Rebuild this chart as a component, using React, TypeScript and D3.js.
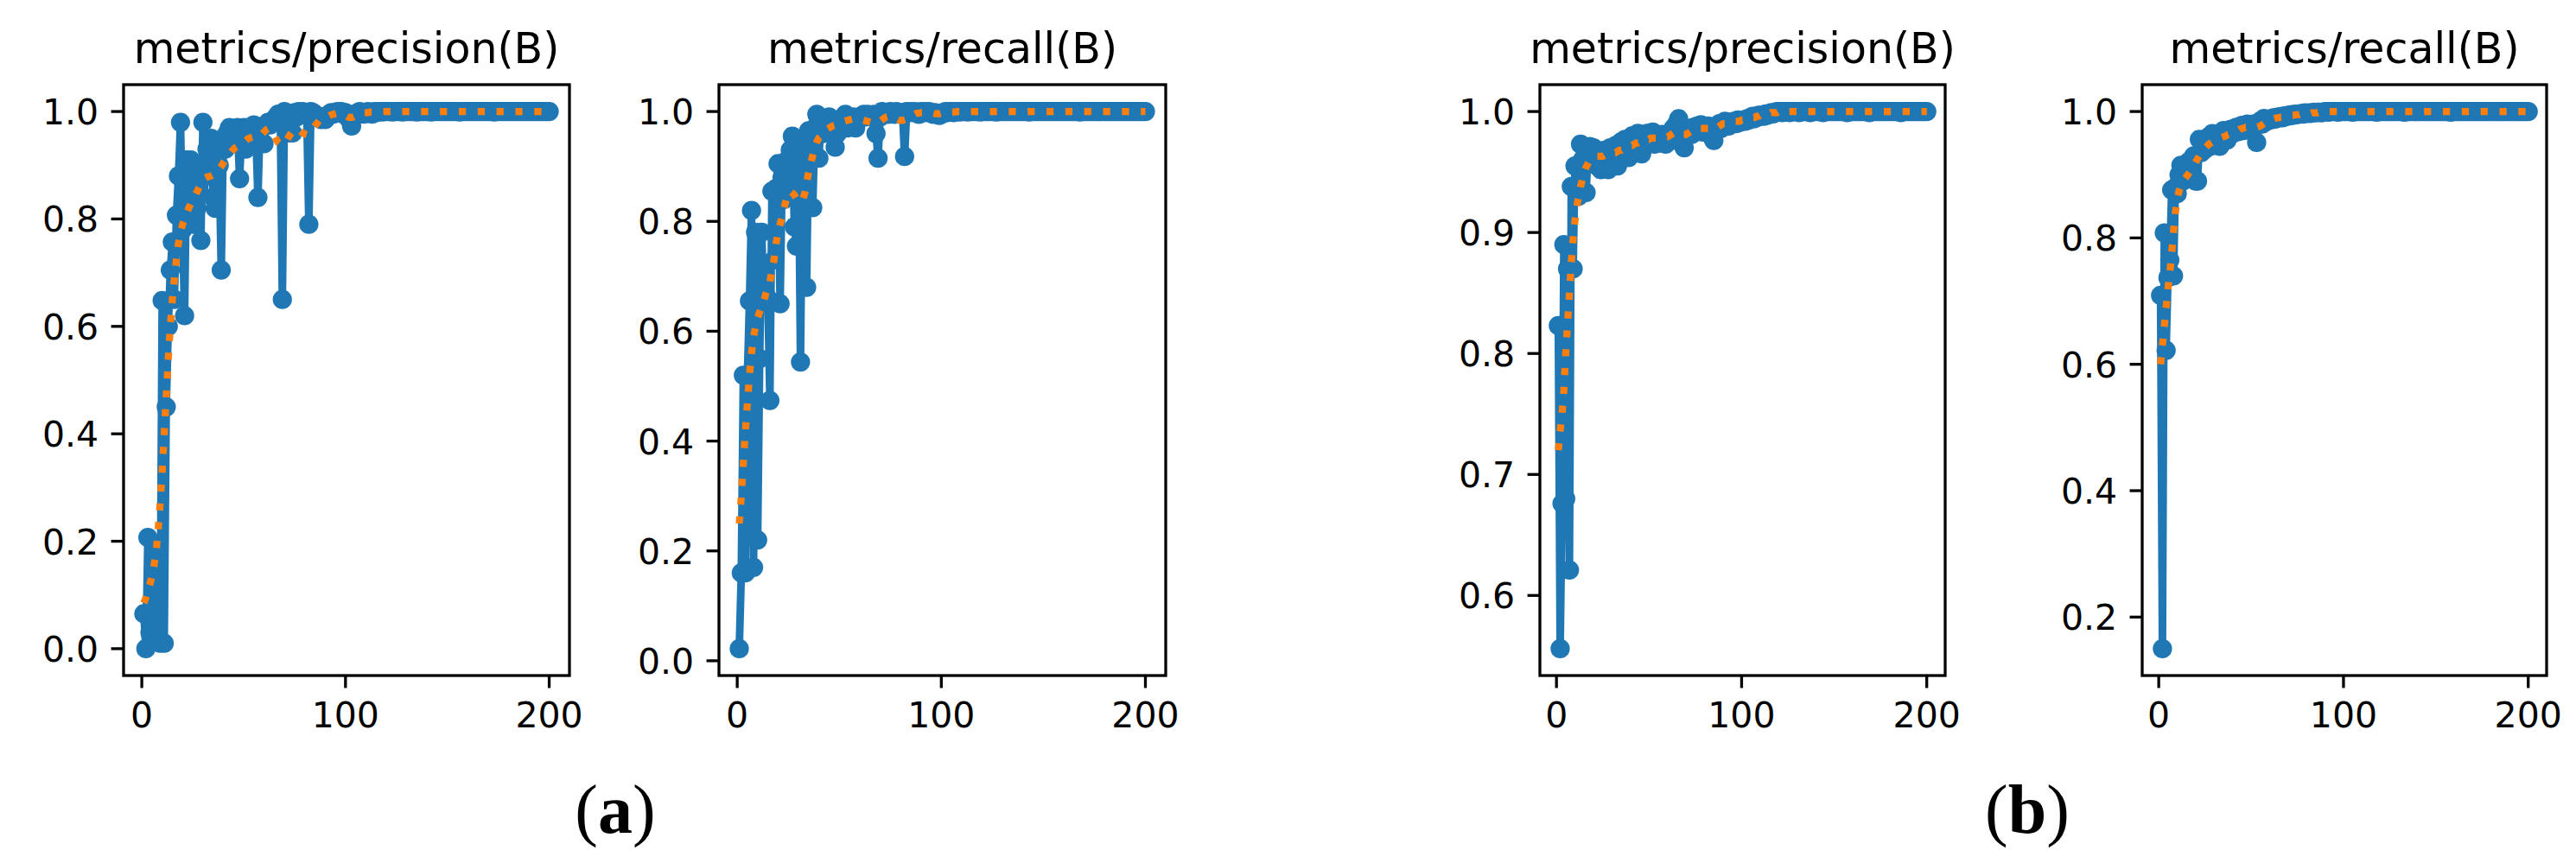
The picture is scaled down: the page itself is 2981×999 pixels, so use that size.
import React from "react";
import * as d3 from "d3";

// ---------------- data ----------------
const epochs = d3.range(1, 201);

const precisionA = [
  0.065, 0.0, 0.207, 0.03, 0.09, 0.176, 0.04, 0.18, 0.01, 0.648,
  0.01, 0.45, 0.6, 0.705, 0.757, 0.65, 0.807, 0.88, 0.98, 0.78,
  0.62, 0.91, 0.8, 0.91, 0.79, 0.88, 0.82, 0.86, 0.76, 0.98,
  0.9, 0.93, 0.88, 0.95, 0.84, 0.82, 0.94, 0.9, 0.705, 0.95,
  0.93, 0.96, 0.97, 0.94, 0.96, 0.95, 0.97, 0.875, 0.96, 0.97,
  0.93, 0.97, 0.96, 0.97, 0.975, 0.96, 0.84, 0.97, 0.97, 0.94,
  0.975, 0.98, 0.975, 0.98, 0.985, 0.99, 0.995, 0.99, 0.65, 1.0,
  0.99, 0.96, 0.995, 0.96, 0.998, 0.99, 1.0, 0.995, 1.0, 0.998,
  0.995, 0.79, 1.0, 0.998, 0.995, 0.99, 0.99, 0.985, 0.99, 0.985,
  0.99, 0.995, 0.998, 0.995, 0.998, 1.0, 0.998, 1.0, 0.995, 0.998,
  0.99, 0.985, 0.973, 0.99, 0.995, 0.998, 1.0, 0.998, 0.995, 0.998,
  1.0, 0.998, 0.995, 1.0, 0.998, 1.0, 1.0, 0.999, 1.0, 1.0,
  1, 1, 0.999, 1, 1, 1, 1, 0.999, 1, 1,
  1, 1, 1, 1, 0.999, 1, 1, 1, 1, 1,
  1, 0.999, 1, 1, 1, 1, 1, 1, 1, 1,
  1, 1, 1, 1, 1, 0.999, 1, 1, 1, 1,
  1, 1, 1, 1, 1, 1, 1, 1, 1, 1,
  1, 1, 0.999, 1, 1, 1, 1, 1, 1, 1,
  1, 1, 1, 1, 1, 1, 1, 1, 1, 1,
  1, 1, 1, 1, 1, 1, 1, 1, 1, 1,
];

const smoothPrecisionA = [
  0.085, 0.095, 0.108, 0.12, 0.135, 0.155, 0.18, 0.22, 0.27, 0.33,
  0.4, 0.47, 0.54, 0.6, 0.65, 0.69, 0.725, 0.755, 0.775, 0.79,
  0.8, 0.81, 0.82, 0.828, 0.835, 0.842, 0.85, 0.858, 0.866, 0.872,
  0.876, 0.878, 0.879, 0.88, 0.882, 0.885, 0.888, 0.893, 0.898, 0.904,
  0.91, 0.915, 0.92, 0.925, 0.93, 0.933, 0.935, 0.937, 0.94, 0.943,
  0.946, 0.949, 0.951, 0.952, 0.953, 0.952, 0.952, 0.955, 0.958, 0.962,
  0.966, 0.968, 0.966, 0.962, 0.955, 0.948, 0.942, 0.939, 0.938, 0.94,
  0.945, 0.952, 0.958, 0.963, 0.967, 0.968, 0.966, 0.963, 0.96, 0.958,
  0.957, 0.958, 0.962, 0.967, 0.973, 0.978, 0.983, 0.986, 0.988, 0.989,
  0.99, 0.992, 0.994, 0.995, 0.996, 0.997, 0.997, 0.996, 0.994, 0.992,
  0.99, 0.989, 0.989, 0.99, 0.992, 0.994, 0.996, 0.997, 0.998, 0.998,
  0.998, 0.999, 0.999, 0.999, 0.999, 1, 1, 1, 1, 1,
  1, 1, 1, 1, 1, 1, 1, 1, 1, 1,
  1, 1, 1, 1, 1, 1, 1, 1, 1, 1,
  1, 1, 1, 1, 1, 1, 1, 1, 1, 1,
  1, 1, 1, 1, 1, 1, 1, 1, 1, 1,
  1, 1, 1, 1, 1, 1, 1, 1, 1, 1,
  1, 1, 1, 1, 1, 1, 1, 1, 1, 1,
  1, 1, 1, 1, 1, 1, 1, 1, 1, 1,
  1, 1, 1, 1, 1, 1, 1, 1, 1, 1,
];

const recallA = [
  0.022, 0.16, 0.52, 0.16, 0.52, 0.655, 0.82, 0.17, 0.78, 0.22,
  0.55, 0.78, 0.66, 0.72, 0.66, 0.474, 0.855, 0.73, 0.86, 0.905,
  0.65, 0.88, 0.84, 0.91, 0.87, 0.93, 0.955, 0.79, 0.755, 0.94,
  0.544, 0.92, 0.95, 0.68, 0.965, 0.93, 0.825, 0.97, 0.995, 0.915,
  0.98, 0.96, 0.975, 0.985, 0.99, 0.97, 0.975, 0.935, 0.96, 0.98,
  0.985, 0.99, 0.995, 0.97, 0.98, 0.985, 0.99, 0.97, 0.985, 0.99,
  0.99, 0.995, 0.99, 0.995, 0.992, 0.99, 0.995, 0.96, 0.915, 0.99,
  1.0, 0.995, 0.998, 0.995, 1.0, 0.998, 0.995, 1.0, 0.998, 0.995,
  0.998, 0.918, 1.0, 0.998, 1.0, 0.998, 1.0, 0.998, 0.995, 1.0,
  0.998, 1.0, 0.998, 1.0, 0.998, 0.995, 0.998, 0.995, 0.993, 0.995,
  0.998, 1.0, 0.998, 1.0, 1.0, 0.998, 1.0, 1.0, 0.999, 1.0,
  1, 1, 0.999, 1, 1, 1, 1, 1, 0.999, 1,
  1, 1, 1, 1, 1, 1, 0.999, 1, 1, 1,
  1, 1, 1, 1, 1, 1, 1, 1, 1, 1,
  1, 1, 0.999, 1, 1, 1, 1, 1, 1, 1,
  1, 1, 1, 1, 1, 1, 1, 1, 1, 1,
  1, 1, 1, 1, 1, 1, 1, 0.999, 1, 1,
  1, 1, 1, 1, 1, 1, 1, 1, 1, 1,
  1, 1, 1, 1, 1, 1, 1, 1, 1, 1,
  1, 1, 1, 1, 1, 1, 1, 1, 1, 1,
];

const smoothRecallA = [
  0.25, 0.3, 0.36, 0.42, 0.47, 0.52, 0.56, 0.59, 0.61, 0.625,
  0.635, 0.645, 0.655, 0.668, 0.68, 0.69, 0.71, 0.73, 0.76, 0.78,
  0.795, 0.81, 0.825, 0.84, 0.85, 0.855, 0.852, 0.848, 0.842, 0.838,
  0.835, 0.838, 0.85, 0.87, 0.89, 0.905, 0.92, 0.935, 0.945, 0.952,
  0.955, 0.96, 0.965, 0.968, 0.97, 0.972, 0.974, 0.975, 0.977, 0.978,
  0.98, 0.982, 0.983, 0.984, 0.985, 0.986, 0.987, 0.987, 0.987, 0.986,
  0.985, 0.984, 0.983, 0.982, 0.981, 0.98, 0.979, 0.979, 0.98, 0.982,
  0.985, 0.988, 0.99, 0.991, 0.992, 0.991, 0.989, 0.987, 0.985, 0.984,
  0.984, 0.985, 0.986, 0.988, 0.99, 0.993, 0.995, 0.997, 0.997, 0.998,
  0.998, 0.998, 0.998, 0.998, 0.997, 0.997, 0.996, 0.996, 0.996, 0.997,
  0.998, 0.998, 0.999, 0.999, 0.999, 0.999, 0.999, 1, 1, 1,
  1, 1, 1, 1, 1, 1, 1, 1, 1, 1,
  1, 1, 1, 1, 1, 1, 1, 1, 1, 1,
  1, 1, 1, 1, 1, 1, 1, 1, 1, 1,
  1, 1, 1, 1, 1, 1, 1, 1, 1, 1,
  1, 1, 1, 1, 1, 1, 1, 1, 1, 1,
  1, 1, 1, 1, 1, 1, 1, 1, 1, 1,
  1, 1, 1, 1, 1, 1, 1, 1, 1, 1,
  1, 1, 1, 1, 1, 1, 1, 1, 1, 1,
  1, 1, 1, 1, 1, 1, 1, 1, 1, 1,
];

const precisionB = [
  0.823, 0.556, 0.676, 0.89, 0.68, 0.87, 0.621, 0.938, 0.87, 0.955,
  0.94, 0.93, 0.973, 0.96, 0.97, 0.933, 0.965, 0.971, 0.96, 0.97,
  0.965, 0.955, 0.96, 0.952, 0.955, 0.968, 0.958, 0.952, 0.97, 0.96,
  0.965, 0.972, 0.955, 0.968, 0.975, 0.962, 0.977, 0.965, 0.962, 0.978,
  0.98, 0.966, 0.975, 0.982, 0.968, 0.965, 0.98, 0.972, 0.982, 0.974,
  0.978, 0.983, 0.973, 0.98, 0.976, 0.974, 0.981, 0.976, 0.973, 0.98,
  0.982, 0.977, 0.986, 0.979, 0.99, 0.994, 0.984, 0.973, 0.97, 0.98,
  0.983, 0.986, 0.981, 0.987, 0.983, 0.988, 0.984, 0.989, 0.983, 0.986,
  0.985, 0.988, 0.986, 0.979, 0.976, 0.985, 0.988, 0.99, 0.986, 0.99,
  0.992, 0.99, 0.988, 0.991, 0.99, 0.992, 0.99, 0.993, 0.991, 0.992,
  0.993, 0.992, 0.994, 0.993, 0.995, 0.996, 0.994, 0.995, 0.997, 0.996,
  0.997, 0.996, 0.998, 0.997, 0.998, 0.999, 0.998, 0.999, 1.0, 1.0,
  1, 0.999, 1, 1, 1, 0.999, 1, 1, 1, 1,
  0.999, 1, 1, 1, 1, 1, 0.999, 1, 1, 1,
  1, 1, 1, 0.999, 1, 1, 1, 1, 1, 1,
  1, 1, 1, 1, 1, 1, 0.999, 1, 1, 1,
  1, 1, 1, 1, 1, 1, 1, 1, 0.999, 1,
  1, 1, 1, 1, 1, 1, 1, 1, 1, 1,
  1, 1, 1, 1, 1, 0.999, 1, 1, 1, 1,
  1, 1, 1, 1, 1, 1, 1, 1, 1, 1,
];

const smoothPrecisionB = [
  0.72, 0.736, 0.75, 0.77, 0.8, 0.825, 0.85, 0.875, 0.895, 0.91,
  0.922, 0.93, 0.938, 0.944, 0.95, 0.954, 0.957, 0.96, 0.961, 0.962,
  0.963, 0.963, 0.963, 0.963, 0.963, 0.964, 0.964, 0.964, 0.965, 0.965,
  0.966, 0.966, 0.967, 0.968, 0.968, 0.969, 0.97, 0.97, 0.971, 0.972,
  0.972, 0.973, 0.974, 0.974, 0.975, 0.975, 0.976, 0.976, 0.977, 0.977,
  0.978, 0.978, 0.978, 0.978, 0.978, 0.978, 0.978, 0.978, 0.979, 0.979,
  0.98, 0.981, 0.982, 0.983, 0.983, 0.983, 0.982, 0.981, 0.981, 0.981,
  0.982, 0.983, 0.984, 0.985, 0.985, 0.986, 0.986, 0.986, 0.986, 0.986,
  0.986, 0.986, 0.985, 0.985, 0.985, 0.986, 0.987, 0.988, 0.989, 0.99,
  0.99, 0.991, 0.991, 0.991, 0.991, 0.992, 0.992, 0.992, 0.992, 0.993,
  0.993, 0.993, 0.994, 0.994, 0.995, 0.995, 0.995, 0.996, 0.996, 0.997,
  0.997, 0.997, 0.998, 0.998, 0.998, 0.999, 0.999, 0.999, 0.999, 1,
  1, 1, 1, 1, 1, 1, 1, 1, 1, 1,
  1, 1, 1, 1, 1, 1, 1, 1, 1, 1,
  1, 1, 1, 1, 1, 1, 1, 1, 1, 1,
  1, 1, 1, 1, 1, 1, 1, 1, 1, 1,
  1, 1, 1, 1, 1, 1, 1, 1, 1, 1,
  1, 1, 1, 1, 1, 1, 1, 1, 1, 1,
  1, 1, 1, 1, 1, 1, 1, 1, 1, 1,
  1, 1, 1, 1, 1, 1, 1, 1, 1, 1,
];

const recallB = [
  0.709, 0.15, 0.808, 0.622, 0.737, 0.765, 0.876, 0.74, 0.88, 0.87,
  0.9, 0.915, 0.89, 0.9, 0.91, 0.92, 0.905, 0.925, 0.93, 0.89,
  0.89, 0.956, 0.935, 0.95, 0.94, 0.955, 0.96, 0.945, 0.965, 0.95,
  0.955, 0.96, 0.945, 0.965, 0.97, 0.96, 0.955, 0.968, 0.972, 0.965,
  0.97, 0.975, 0.968, 0.974, 0.978, 0.97, 0.976, 0.98, 0.975, 0.978,
  0.98, 0.976, 0.951, 0.982, 0.985, 0.98, 0.989, 0.984, 0.986, 0.988,
  0.987, 0.99, 0.988, 0.991, 0.99, 0.992, 0.99, 0.993, 0.992, 0.994,
  0.993, 0.995, 0.994, 0.996, 0.995, 0.996, 0.997, 0.996, 0.998, 0.997,
  0.998, 0.997, 0.998, 0.999, 0.998, 0.999, 0.999, 0.998, 0.999, 1.0,
  1, 0.999, 1, 1, 1, 1, 0.999, 1, 1, 1,
  1, 1, 1, 1, 0.999, 1, 1, 1, 1, 1,
  1, 1, 1, 1, 1, 1, 1, 0.999, 1, 1,
  1, 1, 1, 1, 1, 1, 1, 1, 1, 1,
  1, 1, 0.999, 1, 1, 1, 1, 1, 1, 1,
  1, 1, 1, 1, 1, 1, 1, 1, 1, 1,
  1, 1, 1, 1, 1, 1, 1, 0.999, 1, 1,
  1, 1, 1, 1, 1, 1, 1, 1, 1, 1,
  1, 1, 1, 1, 1, 1, 1, 1, 1, 1,
  1, 1, 1, 1, 1, 1, 1, 1, 1, 1,
  1, 1, 1, 1, 1, 1, 1, 1, 1, 1,
];

const smoothRecallB = [
  0.6, 0.63, 0.66, 0.69, 0.72, 0.745, 0.775, 0.81, 0.84, 0.862,
  0.874, 0.882, 0.888, 0.893, 0.897, 0.901, 0.905, 0.91, 0.915, 0.92,
  0.925, 0.93, 0.935, 0.939, 0.942, 0.945, 0.948, 0.95, 0.952, 0.954,
  0.955, 0.957, 0.958, 0.959, 0.96, 0.961, 0.963, 0.964, 0.965, 0.966,
  0.968, 0.969, 0.97, 0.972, 0.973, 0.974, 0.975, 0.975, 0.975, 0.975,
  0.975, 0.975, 0.975, 0.976, 0.977, 0.979, 0.981, 0.983, 0.985, 0.986,
  0.987, 0.988, 0.989, 0.99, 0.99, 0.991, 0.991, 0.992, 0.992, 0.993,
  0.993, 0.994, 0.994, 0.995, 0.995, 0.995, 0.996, 0.996, 0.996, 0.997,
  0.997, 0.997, 0.998, 0.998, 0.998, 0.998, 0.999, 0.999, 0.999, 0.999,
  1, 1, 1, 1, 1, 1, 1, 1, 1, 1,
  1, 1, 1, 1, 1, 1, 1, 1, 1, 1,
  1, 1, 1, 1, 1, 1, 1, 1, 1, 1,
  1, 1, 1, 1, 1, 1, 1, 1, 1, 1,
  1, 1, 1, 1, 1, 1, 1, 1, 1, 1,
  1, 1, 1, 1, 1, 1, 1, 1, 1, 1,
  1, 1, 1, 1, 1, 1, 1, 1, 1, 1,
  1, 1, 1, 1, 1, 1, 1, 1, 1, 1,
  1, 1, 1, 1, 1, 1, 1, 1, 1, 1,
  1, 1, 1, 1, 1, 1, 1, 1, 1, 1,
  1, 1, 1, 1, 1, 1, 1, 1, 1, 1,
];

const titles = ["metrics/precision(B)", "metrics/recall(B)", "metrics/precision(B)", "metrics/recall(B)"];
const xTicks = [0, 100, 200];
const yTicksPrecisionA = [0.0, 0.2, 0.4, 0.6, 0.8, 1.0];
const yTicksRecallA = [0.0, 0.2, 0.4, 0.6, 0.8, 1.0];
const yTicksPrecisionB = [0.6, 0.7, 0.8, 0.9, 1.0];
const yTicksRecallB = [0.2, 0.4, 0.6, 0.8, 1.0];
const groupLabels = ["a", "b"];

// ---------------- layout / style ----------------
const W = 2981;
const H = 999;
const TOP = 98;
const BOTTOM = 782;
const PT = 4.12; // px per matplotlib point
const BLUE = "#1f77b4";
const ORANGE = "#ff7f0e";
const FONT = "'DejaVu Sans', sans-serif";

const panels = [
  { title: titles[0], values: precisionA, smooth: smoothPrecisionA, yTicks: yTicksPrecisionA, left: 143, right: 659 },
  { title: titles[1], values: recallA, smooth: smoothRecallA, yTicks: yTicksRecallA, left: 832, right: 1349 },
  { title: titles[2], values: precisionB, smooth: smoothPrecisionB, yTicks: yTicksPrecisionB, left: 1782, right: 2251 },
  { title: titles[3], values: recallB, smooth: smoothRecallB, yTicks: yTicksRecallB, left: 2479, right: 2947 },
];

const labelPos = [
  { x: 712, y: 964 },
  { x: 2346, y: 964 },
];

function Panel({ p, idx }: { p: any; idx: number }) {
  const xMin = d3.min(epochs) as number;
  const xMax = d3.max(epochs) as number;
  const xm = (xMax - xMin) * 0.05;
  const x = d3.scaleLinear().domain([xMin - xm, xMax + xm]).range([p.left, p.right]);
  const all = [...p.values, ...p.smooth];
  const yMin = d3.min(all) as number;
  const yMax = d3.max(all) as number;
  const ym = (yMax - yMin) * 0.05;
  const y = d3.scaleLinear().domain([yMin - ym, yMax + ym]).range([BOTTOM, TOP]);
  const pts = epochs.map((e, i) => [e, p.values[i]] as [number, number]).filter((d) => d[1] != null);
  const spts = epochs.map((e, i) => [e, p.smooth[i]] as [number, number]).filter((d) => d[1] != null);
  const line = d3
    .line<[number, number]>()
    .x((d) => x(d[0]))
    .y((d) => y(d[1]));
  const fmt = d3.format(".1f");
  const clipId = `clip-${idx}`;
  const tickLen = 3.5 * PT;
  const pad = 3.5 * PT;
  const lw = 0.8 * PT;
  return (
    <g>
      <defs>
        <clipPath id={clipId}>
          <rect x={p.left} y={TOP} width={p.right - p.left} height={BOTTOM - TOP} />
        </clipPath>
      </defs>
      <g clipPath={`url(#${clipId})`}>
        <path d={line(pts) || ""} fill="none" stroke={BLUE} strokeWidth={2.15 * PT} strokeLinejoin="round" strokeLinecap="round" />
        {pts.map((d, i) => (
          <circle key={i} cx={x(d[0])} cy={y(d[1])} r={2.7 * PT} fill={BLUE} />
        ))}
        <path
          d={line(spts) || ""}
          fill="none"
          stroke={ORANGE}
          strokeWidth={2 * PT}
          strokeDasharray={`${2 * PT} ${3.3 * PT}`}
          strokeLinecap="butt"
        />
      </g>
      <rect x={p.left} y={TOP} width={p.right - p.left} height={BOTTOM - TOP} fill="none" stroke="#000" strokeWidth={lw} />
      {p.yTicks.map((t: number) => (
        <g key={`y${t}`}>
          <line x1={p.left - tickLen} x2={p.left} y1={y(t)} y2={y(t)} stroke="#000" strokeWidth={lw} />
          <text x={p.left - tickLen - pad} y={y(t) + 15} textAnchor="end" fontFamily={FONT} fontSize={41} fill="#000">
            {fmt(t)}
          </text>
        </g>
      ))}
      {xTicks.map((t) => (
        <g key={`x${t}`}>
          <line x1={x(t)} x2={x(t)} y1={BOTTOM} y2={BOTTOM + tickLen} stroke="#000" strokeWidth={lw} />
          <text x={x(t)} y={BOTTOM + tickLen + pad + 31} textAnchor="middle" fontFamily={FONT} fontSize={41} fill="#000">
            {t}
          </text>
        </g>
      ))}
      <text x={(p.left + p.right) / 2} y={TOP - 25} textAnchor="middle" fontFamily={FONT} fontSize={49} fill="#000">
        {p.title}
      </text>
    </g>
  );
}

export default function App() {
  return (
    <svg width={W} height={H} style={{ position: "absolute", left: 0, top: 0, background: "#fff" }}>
      <rect x={0} y={0} width={W} height={H} fill="#fff" />
      {panels.map((p, i) => (
        <Panel key={i} p={p} idx={i} />
      ))}
      {groupLabels.map((g, i) => (
        <text
          key={g}
          x={labelPos[i].x}
          y={labelPos[i].y}
          textAnchor="middle"
          fontFamily="'Liberation Serif', 'Times New Roman', serif"
          fontSize={80}
          fill="#000"
        >
          (<tspan fontWeight="bold">{g}</tspan>)
        </text>
      ))}
    </svg>
  );
}
